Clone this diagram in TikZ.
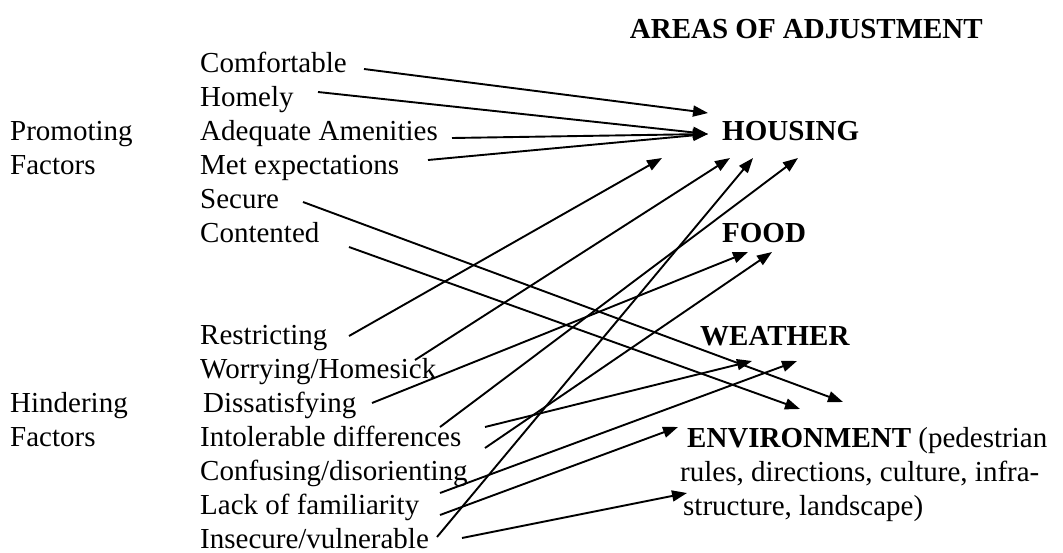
\documentclass[tikz,border=0pt]{standalone}
\usepackage{fontspec}
\setmainfont{Liberation Serif}
\usetikzlibrary{arrows.meta}
\tikzset{
  lbl/.style={anchor=base west,inner sep=0pt,font=\fontsize{29}{34}\selectfont},
  hdr/.style={anchor=base west,inner sep=0pt,font=\fontsize{29}{34}\selectfont\bfseries},
  arr/.style={line width=1.9pt,-{Triangle[length=15pt,width=11pt]}}
}
\begin{document}
\begin{tikzpicture}[x=1pt,y=-1pt]
\useasboundingbox (0,0) rectangle (1063,552);
% title and areas
\node[hdr,anchor=base east] (title) at (983,38) {AREAS OF ADJUSTMENT};
\node[hdr] (housing) at (722,140) {HOUSING};
\node[hdr] (food) at (722,242) {FOOD};
\node[hdr] (weather) at (700,345) {WEATHER};
\node[lbl] (env1) at (687,447) {\textbf{ENVIRONMENT} (pedestrian};
\node[lbl] (env2) at (680,481) {rules, directions, culture, infra-};
\node[lbl] (env3) at (683,515) {structure, landscape)};
% group labels
\node[lbl] (prom) at (10,140) {Promoting};
\node[lbl] (promf) at (10,174) {Factors};
\node[lbl] (hind) at (10,412) {Hindering};
\node[lbl] (hindf) at (10,446) {Factors};
% promoting factors
\node[lbl] (comf) at (200,72) {Comfortable};
\node[lbl] (homely) at (200,106) {Homely};
\node[lbl] (adeq) at (200,140) {Adequate Amenities};
\node[lbl] (met) at (200,174) {Met expectations};
\node[lbl] (secure) at (200,208) {Secure};
\node[lbl] (cont) at (200,242) {Contented};
% hindering factors
\node[lbl] (restr) at (200,344) {Restricting};
\node[lbl] (worry) at (200,378) {Worrying/Homesick};
\node[lbl] (dissat) at (203,412) {Dissatisfying};
\node[lbl] (intol) at (200,446) {Intolerable differences};
\node[lbl] (conf) at (200,480) {Confusing/disorienting};
\node[lbl] (lack) at (200,514) {Lack of familiarity};
\node[lbl] (insec) at (200,548) {Insecure/vulnerable};
% connector ends
\coordinate (s-comf) at (364,69);
\coordinate (s-homely) at (318,92);
\coordinate (s-adeq) at (452,138);
\coordinate (s-met) at (428,160);
\coordinate (s-secure) at (303,202);
\coordinate (s-cont) at (349,247);
\coordinate (s-restr) at (349,336);
\coordinate (s-worry) at (415,360);
\coordinate (s-dissat) at (372,403);
\coordinate (s-intol1) at (440,427);
\coordinate (s-intol2) at (485,427);
\coordinate (s-intol3) at (485,448);
\coordinate (s-conf) at (440,493);
\coordinate (s-lack) at (440,515);
\coordinate (s-insec1) at (437,537);
\coordinate (s-insec2) at (462,538);
\coordinate (t-h0) at (708,113);
\coordinate (t-h1) at (708,134);
\coordinate (t-h2) at (662,158);
\coordinate (t-h3) at (730,158);
\coordinate (t-h4) at (753,158);
\coordinate (t-h5) at (798,158);
\coordinate (t-f1) at (748,252);
\coordinate (t-f2) at (772,252);
\coordinate (t-w1) at (752,361);
\coordinate (t-w2) at (797,361);
\coordinate (t-x1) at (800,409);
\coordinate (t-x2) at (843,402);
\coordinate (t-e1) at (678,427);
\coordinate (t-e2) at (687,493);
% connectors
\draw[arr] (s-comf) -- (t-h0);
\draw[arr] (s-homely) -- (t-h1);
\draw[arr] (s-adeq) -- (t-h1);
\draw[arr] (s-met) -- (t-h1);
\draw[arr] (s-secure) -- (t-x2);
\draw[arr] (s-cont) -- (t-x1);
\draw[arr] (s-restr) -- (t-h2);
\draw[arr] (s-worry) -- (t-h3);
\draw[arr] (s-dissat) -- (t-f1);
\draw[arr] (s-intol1) -- (t-h5);
\draw[arr] (s-intol2) -- (t-w1);
\draw[arr] (s-intol3) -- (t-f2);
\draw[arr] (s-conf) -- (t-w2);
\draw[arr] (s-lack) -- (t-e1);
\draw[arr] (s-insec1) -- (t-h4);
\draw[arr] (s-insec2) -- (t-e2);
\end{tikzpicture}
\end{document}
